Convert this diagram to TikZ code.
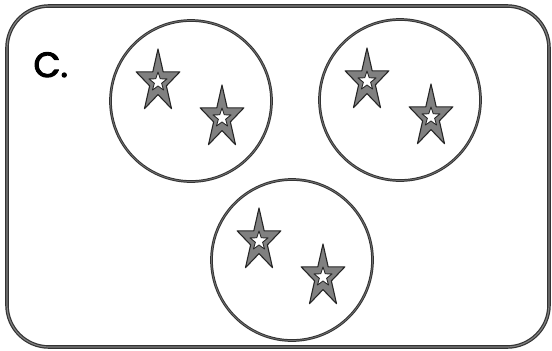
\documentclass[tikz,border=0pt]{standalone}
\usepackage{fontspec}
\setmainfont{Poppins}
\newfontfamily\lblfont{Poppins}[FakeBold=3]
\begin{document}
\begin{tikzpicture}[x=1pt,y=-1pt,line join=round]
\tikzset{
  frame/.style={draw=black!80,double=black!50,line width=1.2pt,double distance=1.2pt,rounded corners=42pt},
  grp/.style={circle,draw=black!80,double=black!55,line width=1pt,double distance=0.7pt,minimum size=161pt,inner sep=0pt},
  starmark/.pic={
    % gray star with white star inside
    \draw[draw=black!85,fill=black!50,line width=1.1pt]
      (-90:23 and 33) \foreach \k in {1,...,4}{ -- (-126+72*\k:8.8 and 12.6) -- (-90+72*\k:23 and 33) }
      -- (-126:8.8 and 12.6) -- cycle;
    \draw[draw=black!85,fill=white,line width=0.9pt]
      (-90:9.5 and 10) \foreach \k in {1,...,4}{ -- (-126+72*\k:3.8 and 4) -- (-90+72*\k:9.5 and 10) }
      -- (-126:3.8 and 4) -- cycle;
  }
}
\useasboundingbox (0,0) rectangle (552,351);
\draw[frame] (7,6) rectangle (549,347);
\node[anchor=base west,font=\fontsize{35}{35}\lblfont] (lbl) at (30,77) {C.};
% ---------- three groups of two stars ----------
\foreach \n/\cx/\cy in {1/191/101,2/400/100,3/292/260}{
  \node[grp] (grp\n) at (\cx,\cy) {};
  \pic at (\cx-33,\cy-19) {starmark};
  \pic at (\cx+31,\cy+17) {starmark};
}
\end{tikzpicture}
\end{document}
